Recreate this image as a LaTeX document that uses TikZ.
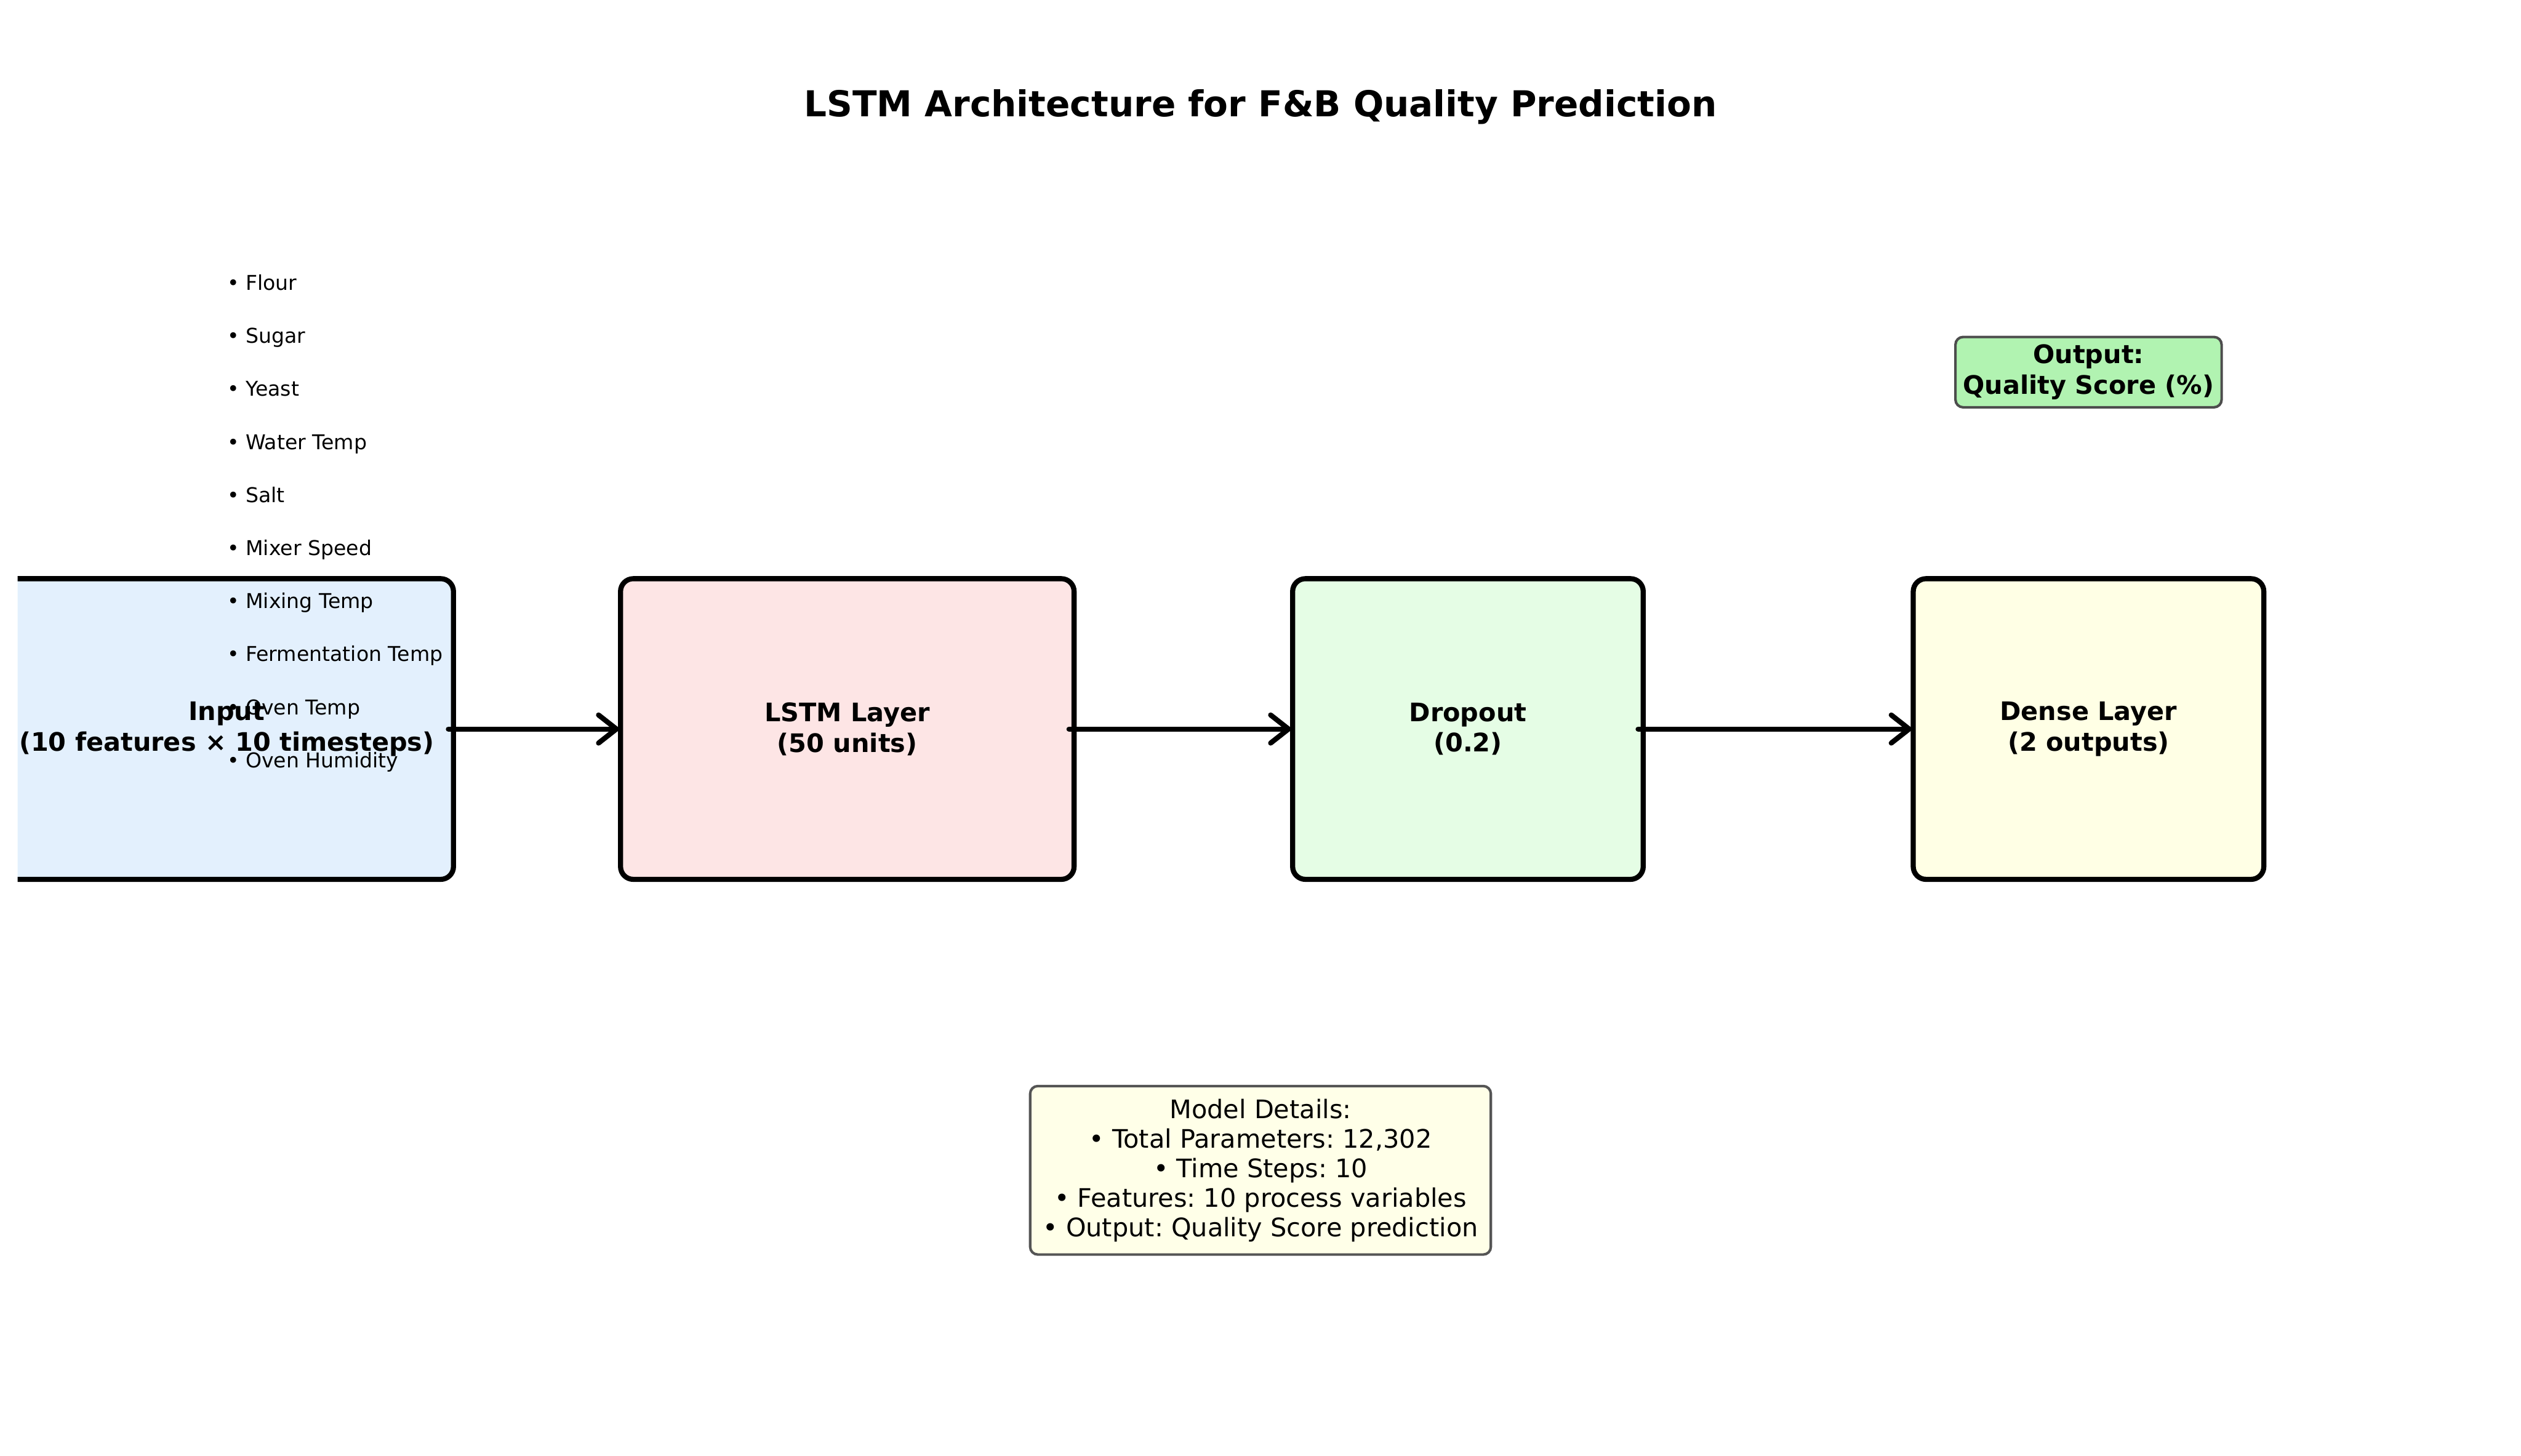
\documentclass[tikz,border=0pt]{standalone}
\usepackage{fontspec}
\setmainfont{DejaVu Sans}
\usetikzlibrary{arrows.meta, positioning}
\frenchspacing

\definecolor{inputfill}{HTML}{E3F0FD}
\definecolor{lstmfill}{HTML}{FDE5E5}
\definecolor{dropfill}{HTML}{E5FDE5}
\definecolor{densefill}{HTML}{FFFFE5}
\definecolor{outfill}{HTML}{B1F3B1}
\definecolor{outedge}{HTML}{4D4D4D}
\definecolor{notefill}{HTML}{FFFFE8}
\definecolor{noteedge}{HTML}{555555}

\begin{document}
\begin{tikzpicture}[x=0.022162cm, y=-0.022162cm,
    layer/.style={draw, line width=2pt, rounded corners=5pt, minimum height=4.144cm,
        align=center, font=\bfseries\fontsize{10}{12}\selectfont},
    widebox/.style={layer, minimum width=6.25cm},
    narrowbox/.style={layer, minimum width=4.831cm},
    flow/.style={line width=2pt, line cap=round, shorten <=-3pt, shorten >=-1pt,
        -{Straight Barb[length=7pt, width=11pt, line cap=round]}},
    item/.style={anchor=base west, inner sep=0pt, font=\fontsize{8}{9.6}\selectfont}]

    \def\rowy{453.5}
    \def\listx{141}

    \useasboundingbox (0,0) rectangle (1568,905.5);

    % --- Title ---
    \node[font=\bfseries\fontsize{14}{17}\selectfont] (title) at (784,66.5)
        {LSTM Architecture for F\&B Quality Prediction};

    % --- Layers ---
    % input box runs off the left edge
    \begin{scope}
        \clip (11,0) rectangle (1568,905.5);
        \node[widebox, fill=inputfill] (input) at (141,\rowy)
            {Input\\(10 features × 10 timesteps)};
    \end{scope}
    \node[widebox, fill=lstmfill] (lstm) at (527,\rowy) {LSTM Layer\\(50 units)};
    \node[narrowbox, fill=dropfill] (drop) at (913,\rowy) {Dropout\\(0.2)};
    \node[narrowbox, fill=densefill] (dense) at (1299,\rowy) {Dense Layer\\(2 outputs)};

    % --- Feature list ---
    \foreach \feat [count=\i from 0] in {Flour, Sugar, Yeast, Water Temp, Salt,
        Mixer Speed, Mixing Temp, Fermentation Temp, Oven Temp, Oven Humidity}
        \node[item] (feat\i) at (\listx,180.5+33*\i) {• \feat};

    % --- Arrows ---
    \draw[flow] (input.east) -- (lstm.west);
    \draw[flow] (lstm.east) -- (drop.west);
    \draw[flow] (drop.east) -- (dense.west);

    % --- Output label ---
    \node[draw=outedge, fill=outfill, line width=1pt, rounded corners=3pt, inner sep=3pt,
        align=center, font=\bfseries\fontsize{10}{12}\selectfont] (output) at (1299,231.5)
        {Output:\\Quality Score (\%)};

    % --- Model details ---
    \node[draw=noteedge, fill=notefill, line width=1pt, rounded corners=3pt, inner sep=5pt,
        align=center, font=\fontsize{10}{11.6}\selectfont] (details) at (784,728)
        {Model Details:\\• Total Parameters: 12,302\\• Time Steps: 10\\
         • Features: 10 process variables\\• Output: Quality Score prediction};

\end{tikzpicture}
\end{document}
